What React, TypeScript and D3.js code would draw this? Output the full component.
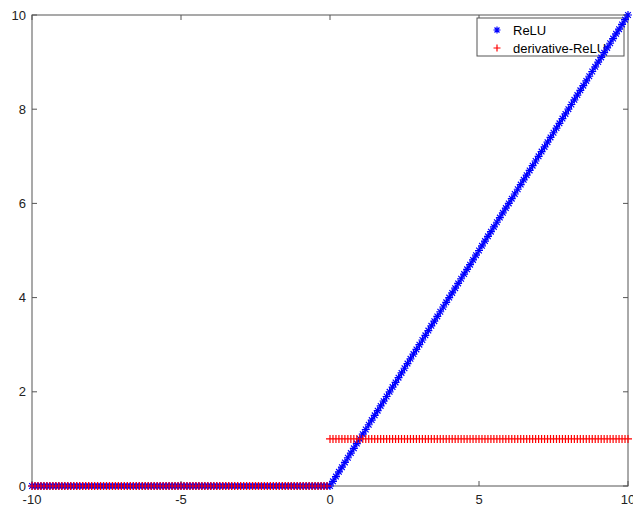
import React from 'react';
import * as d3 from 'd3';

// sampled inputs, step 0.1
const xValues = [
  -10, -9.9, -9.8, -9.7, -9.6, -9.5, -9.4, -9.3, -9.2, -9.1,
  -9, -8.9, -8.8, -8.7, -8.6, -8.5, -8.4, -8.3, -8.2, -8.1,
  -8, -7.9, -7.8, -7.7, -7.6, -7.5, -7.4, -7.3, -7.2, -7.1,
  -7, -6.9, -6.8, -6.7, -6.6, -6.5, -6.4, -6.3, -6.2, -6.1,
  -6, -5.9, -5.8, -5.7, -5.6, -5.5, -5.4, -5.3, -5.2, -5.1,
  -5, -4.9, -4.8, -4.7, -4.6, -4.5, -4.4, -4.3, -4.2, -4.1,
  -4, -3.9, -3.8, -3.7, -3.6, -3.5, -3.4, -3.3, -3.2, -3.1,
  -3, -2.9, -2.8, -2.7, -2.6, -2.5, -2.4, -2.3, -2.2, -2.1,
  -2, -1.9, -1.8, -1.7, -1.6, -1.5, -1.4, -1.3, -1.2, -1.1,
  -1, -0.9, -0.8, -0.7, -0.6, -0.5, -0.4, -0.3, -0.2, -0.1,
  0, 0.1, 0.2, 0.3, 0.4, 0.5, 0.6, 0.7, 0.8, 0.9,
  1, 1.1, 1.2, 1.3, 1.4, 1.5, 1.6, 1.7, 1.8, 1.9,
  2, 2.1, 2.2, 2.3, 2.4, 2.5, 2.6, 2.7, 2.8, 2.9,
  3, 3.1, 3.2, 3.3, 3.4, 3.5, 3.6, 3.7, 3.8, 3.9,
  4, 4.1, 4.2, 4.3, 4.4, 4.5, 4.6, 4.7, 4.8, 4.9,
  5, 5.1, 5.2, 5.3, 5.4, 5.5, 5.6, 5.7, 5.8, 5.9,
  6, 6.1, 6.2, 6.3, 6.4, 6.5, 6.6, 6.7, 6.8, 6.9,
  7, 7.1, 7.2, 7.3, 7.4, 7.5, 7.6, 7.7, 7.8, 7.9,
  8, 8.1, 8.2, 8.3, 8.4, 8.5, 8.6, 8.7, 8.8, 8.9,
  9, 9.1, 9.2, 9.3, 9.4, 9.5, 9.6, 9.7, 9.8, 9.9,
  10,
];

const reluValues = [
  0, 0, 0, 0, 0, 0, 0, 0, 0, 0,
  0, 0, 0, 0, 0, 0, 0, 0, 0, 0,
  0, 0, 0, 0, 0, 0, 0, 0, 0, 0,
  0, 0, 0, 0, 0, 0, 0, 0, 0, 0,
  0, 0, 0, 0, 0, 0, 0, 0, 0, 0,
  0, 0, 0, 0, 0, 0, 0, 0, 0, 0,
  0, 0, 0, 0, 0, 0, 0, 0, 0, 0,
  0, 0, 0, 0, 0, 0, 0, 0, 0, 0,
  0, 0, 0, 0, 0, 0, 0, 0, 0, 0,
  0, 0, 0, 0, 0, 0, 0, 0, 0, 0,
  0, 0.1, 0.2, 0.3, 0.4, 0.5, 0.6, 0.7, 0.8, 0.9,
  1, 1.1, 1.2, 1.3, 1.4, 1.5, 1.6, 1.7, 1.8, 1.9,
  2, 2.1, 2.2, 2.3, 2.4, 2.5, 2.6, 2.7, 2.8, 2.9,
  3, 3.1, 3.2, 3.3, 3.4, 3.5, 3.6, 3.7, 3.8, 3.9,
  4, 4.1, 4.2, 4.3, 4.4, 4.5, 4.6, 4.7, 4.8, 4.9,
  5, 5.1, 5.2, 5.3, 5.4, 5.5, 5.6, 5.7, 5.8, 5.9,
  6, 6.1, 6.2, 6.3, 6.4, 6.5, 6.6, 6.7, 6.8, 6.9,
  7, 7.1, 7.2, 7.3, 7.4, 7.5, 7.6, 7.7, 7.8, 7.9,
  8, 8.1, 8.2, 8.3, 8.4, 8.5, 8.6, 8.7, 8.8, 8.9,
  9, 9.1, 9.2, 9.3, 9.4, 9.5, 9.6, 9.7, 9.8, 9.9,
  10,
];

const derivValues = [
  0, 0, 0, 0, 0, 0, 0, 0, 0, 0,
  0, 0, 0, 0, 0, 0, 0, 0, 0, 0,
  0, 0, 0, 0, 0, 0, 0, 0, 0, 0,
  0, 0, 0, 0, 0, 0, 0, 0, 0, 0,
  0, 0, 0, 0, 0, 0, 0, 0, 0, 0,
  0, 0, 0, 0, 0, 0, 0, 0, 0, 0,
  0, 0, 0, 0, 0, 0, 0, 0, 0, 0,
  0, 0, 0, 0, 0, 0, 0, 0, 0, 0,
  0, 0, 0, 0, 0, 0, 0, 0, 0, 0,
  0, 0, 0, 0, 0, 0, 0, 0, 0, 0,
  1, 1, 1, 1, 1, 1, 1, 1, 1, 1,
  1, 1, 1, 1, 1, 1, 1, 1, 1, 1,
  1, 1, 1, 1, 1, 1, 1, 1, 1, 1,
  1, 1, 1, 1, 1, 1, 1, 1, 1, 1,
  1, 1, 1, 1, 1, 1, 1, 1, 1, 1,
  1, 1, 1, 1, 1, 1, 1, 1, 1, 1,
  1, 1, 1, 1, 1, 1, 1, 1, 1, 1,
  1, 1, 1, 1, 1, 1, 1, 1, 1, 1,
  1, 1, 1, 1, 1, 1, 1, 1, 1, 1,
  1, 1, 1, 1, 1, 1, 1, 1, 1, 1,
  1,
];

const xTicks = [-10, -5, 0, 5, 10];
const yTicks = [0, 2, 4, 6, 8, 10];
const seriesNames = ['ReLU', 'derivative-ReLU'];

const W = 633;
const H = 506;
const left = 32;
const right = 628;
const top = 15;
const bottom = 486;
const font = 'Liberation Sans, Arial, Helvetica, sans-serif';

const x = d3.scaleLinear().domain([-10, 10]).range([left, right]);
const y = d3.scaleLinear().domain([0, 10]).range([bottom, top]);

const star = (cx: number, cy: number, r: number) => {
  const d = r * 0.7071;
  return `M${cx - r},${cy}L${cx + r},${cy}M${cx},${cy - r}L${cx},${cy + r}` +
    `M${cx - d},${cy - d}L${cx + d},${cy + d}M${cx - d},${cy + d}L${cx + d},${cy - d}`;
};
const plus = (cx: number, cy: number, r: number) =>
  `M${cx - r},${cy}L${cx + r},${cy}M${cx},${cy - r}L${cx},${cy + r}`;

export default function App() {
  const reluPath = xValues.map((v, i) => star(x(v), y(reluValues[i]), 4)).join('');
  const derivPath = xValues.map((v, i) => plus(x(v), y(derivValues[i]), 4)).join('');
  const axisColor = '#555';

  return (
    <svg width={W} height={H} style={{ position: 'absolute', left: 0, top: 0, background: '#fff' }}>
      <rect x={0} y={0} width={W} height={H} fill="#fff" />
      <rect x={left} y={top} width={right - left} height={bottom - top} fill="none" stroke={axisColor} strokeWidth={1} />
      {xTicks.map((t) => (
        <g key={'x' + t}>
          <line x1={x(t)} x2={x(t)} y1={bottom} y2={bottom - 5} stroke={axisColor} />
          <line x1={x(t)} x2={x(t)} y1={top} y2={top + 5} stroke={axisColor} />
          <text x={x(t)} y={bottom + 18} textAnchor="middle" fontFamily={font} fontSize={13} fill="#222">
            {t}
          </text>
        </g>
      ))}
      {yTicks.map((t) => (
        <g key={'y' + t}>
          <line x1={left} x2={left + 5} y1={y(t)} y2={y(t)} stroke={axisColor} />
          <line x1={right} x2={right - 5} y1={y(t)} y2={y(t)} stroke={axisColor} />
          <text x={left - 6} y={y(t) + 4.5} textAnchor="end" fontFamily={font} fontSize={13} fill="#222">
            {t}
          </text>
        </g>
      ))}
      <g>
        <rect x={477} y={18} width={147} height={38} fill="#fff" stroke={axisColor} strokeWidth={1} />
        <path d={star(497, 30, 3.5)} stroke="#0000ff" strokeWidth={1.2} fill="none" />
        <path d={plus(497, 48, 3.5)} stroke="#ff0000" strokeWidth={1.2} fill="none" />
        <text x={513} y={34.5} fontFamily={font} fontSize={13} fill="#000">{seriesNames[0]}</text>
        <text x={513} y={53} fontFamily={font} fontSize={13} fill="#000">{seriesNames[1]}</text>
      </g>
      <path d={reluPath} stroke="#0000ff" strokeWidth={1.2} fill="none" />
      <path d={derivPath} stroke="#ff0000" strokeWidth={1.2} fill="none" />
    </svg>
  );
}
